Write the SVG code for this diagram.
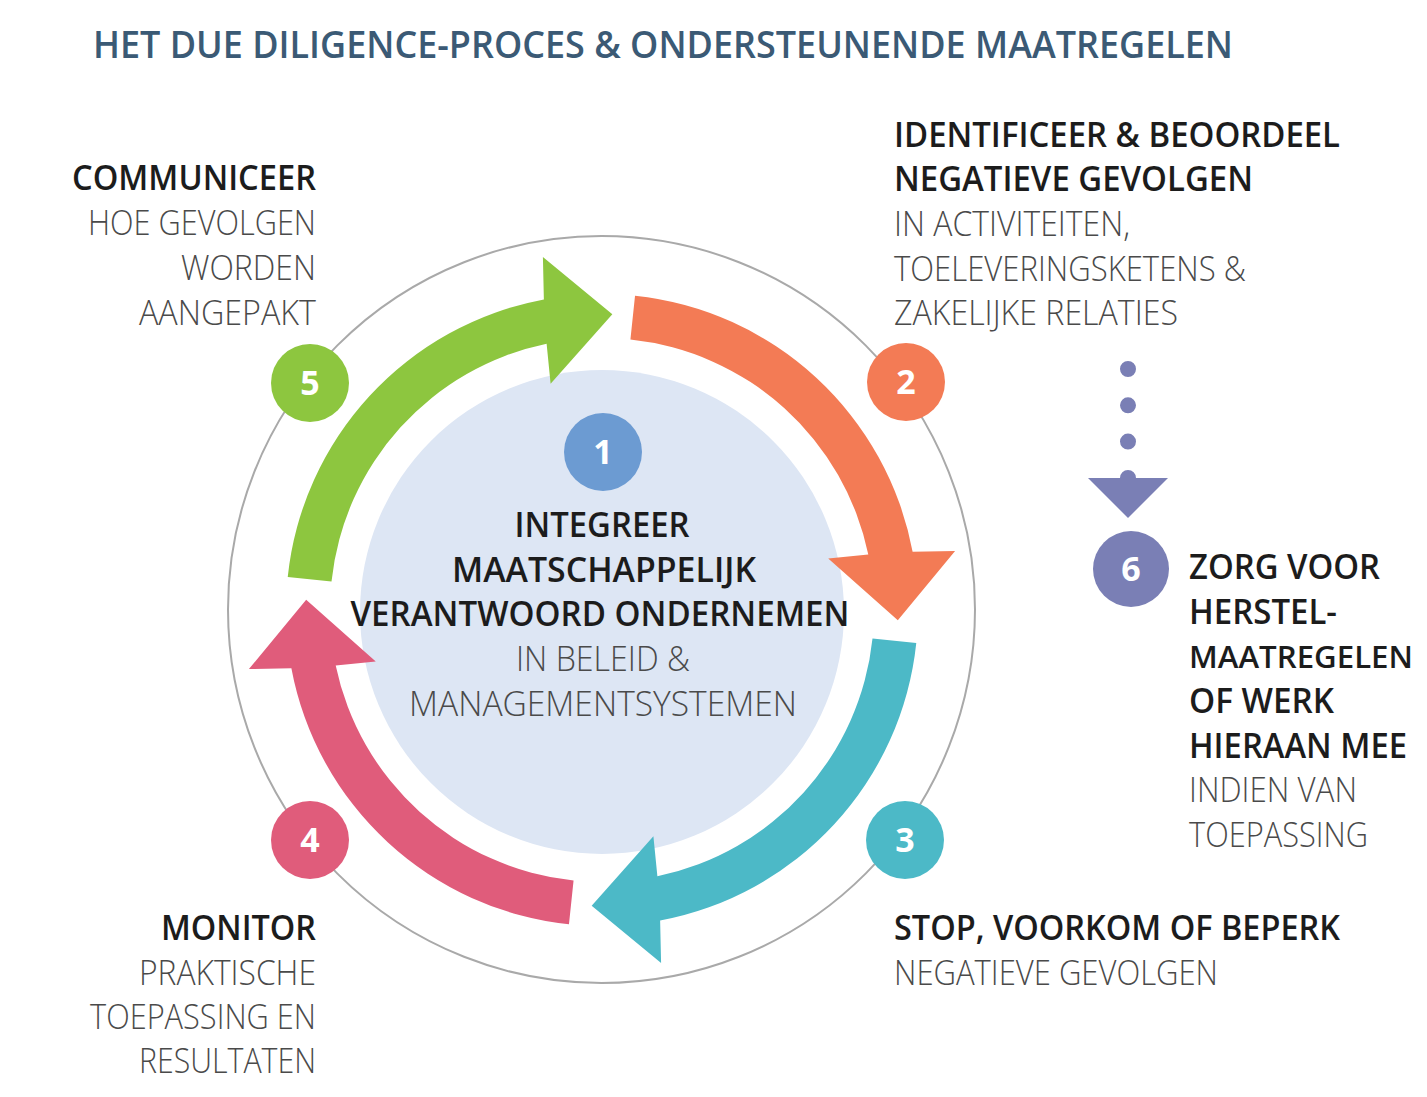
<svg xmlns="http://www.w3.org/2000/svg" xmlns:xlink="http://www.w3.org/1999/xlink" width="1427" height="1097" viewBox="0 0 1427 1097">
<style>
  text { font-family: "Open Sans", "Liberation Sans", sans-serif; }
  .title { font-size: 38px; font-weight: 600; fill: #3b5a75; }
  .b { font-size: 34px; font-weight: 600; fill: #1c1c1c; }
  .l { font-size: 34px; font-weight: 300; fill: #4a4a4a; }
  .num { font-size: 34px; font-weight: 700; fill: #ffffff; text-anchor: middle; }
  .ring { fill: none; stroke: #a9a9a9; stroke-width: 2; }
</style>
<defs>
  <path id="arc-arrow" d="M 287.73 576.97 A 316 316 0 0 1 543.87 299.39 L 542.91 256.91 L 612.33 314.18 L 550.60 383.77 L 546.61 343.70 A 272 272 0 0 0 331.49 581.57 Z"/>
  <marker id="tri" viewBox="0 0 40 80" markerWidth="40" markerHeight="80" refX="0" refY="40" orient="auto" markerUnits="userSpaceOnUse">
    <path d="M0,0 L40,40 L0,80 Z" fill="#7a7fb5"/>
  </marker>
</defs>
<rect width="1427" height="1097" fill="#ffffff"/>

<text class="title" x="93" y="58" textLength="1140" lengthAdjust="spacingAndGlyphs">HET DUE DILIGENCE-PROCES &amp; ONDERSTEUNENDE MAATREGELEN</text>

<circle class="ring" cx="601.5" cy="609.5" r="373.5"/>

<g id="step1">
  <circle cx="602" cy="612" r="242" fill="#dde6f4"/>
  <circle cx="603" cy="452" r="39" fill="#6c9bd2"/>
  <text class="num" x="603" y="464">1</text>
  <g text-anchor="middle">
    <text class="b" x="602" y="537" textLength="175" lengthAdjust="spacingAndGlyphs">INTEGREER</text>
    <text class="b" x="604" y="582" textLength="304" lengthAdjust="spacingAndGlyphs">MAATSCHAPPELIJK</text>
    <text class="b" x="600" y="626" textLength="499" lengthAdjust="spacingAndGlyphs">VERANTWOORD ONDERNEMEN</text>
    <text class="l" x="603" y="671" textLength="174" lengthAdjust="spacingAndGlyphs">IN BELEID &amp;</text>
    <text class="l" x="603" y="716" textLength="388" lengthAdjust="spacingAndGlyphs">MANAGEMENTSYSTEMEN</text>
  </g>
</g>

<g id="connectors">
  <use xlink:href="#arc-arrow" href="#arc-arrow" fill="#8dc63f"/>
  <use xlink:href="#arc-arrow" href="#arc-arrow" fill="#f37b55" transform="rotate(90 602 610)"/>
  <use xlink:href="#arc-arrow" href="#arc-arrow" fill="#4cb9c7" transform="rotate(180 602 610)"/>
  <use xlink:href="#arc-arrow" href="#arc-arrow" fill="#e05c7b" transform="rotate(270 602 610)"/>
  <line x1="1128" y1="369" x2="1128" y2="478" stroke="#7a7fb5" stroke-width="16" stroke-linecap="round" stroke-dasharray="0 36.3" marker-end="url(#tri)"/>
</g>

<g id="step5">
  <circle cx="310" cy="383" r="39" fill="#8dc63f"/>
  <text class="num" x="310" y="395">5</text>
  <g text-anchor="end">
    <text class="b" x="316" y="190" textLength="244" lengthAdjust="spacingAndGlyphs">COMMUNICEER</text>
    <text class="l" x="316" y="235" textLength="228" lengthAdjust="spacingAndGlyphs">HOE GEVOLGEN</text>
    <text class="l" x="316" y="280" textLength="135" lengthAdjust="spacingAndGlyphs">WORDEN</text>
    <text class="l" x="316" y="325" textLength="177" lengthAdjust="spacingAndGlyphs">AANGEPAKT</text>
  </g>
</g>

<g id="step2">
  <circle cx="906" cy="382" r="39" fill="#f37b55"/>
  <text class="num" x="906" y="394">2</text>
  <text class="b" x="894" y="147" textLength="446" lengthAdjust="spacingAndGlyphs">IDENTIFICEER &amp; BEOORDEEL</text>
  <text class="b" x="894" y="191" textLength="359" lengthAdjust="spacingAndGlyphs">NEGATIEVE GEVOLGEN</text>
  <text class="l" x="894" y="236" textLength="236" lengthAdjust="spacingAndGlyphs">IN ACTIVITEITEN,</text>
  <text class="l" x="894" y="281" textLength="352" lengthAdjust="spacingAndGlyphs">TOELEVERINGSKETENS &amp;</text>
  <text class="l" x="894" y="325" textLength="284" lengthAdjust="spacingAndGlyphs">ZAKELIJKE RELATIES</text>
</g>

<g id="step3">
  <circle cx="905" cy="840" r="39" fill="#4cb9c7"/>
  <text class="num" x="905" y="852">3</text>
  <text class="b" x="894" y="940" textLength="446" lengthAdjust="spacingAndGlyphs">STOP, VOORKOM OF BEPERK</text>
  <text class="l" x="894" y="985" textLength="324" lengthAdjust="spacingAndGlyphs">NEGATIEVE GEVOLGEN</text>
</g>

<g id="step4">
  <circle cx="310" cy="840" r="39" fill="#e05c7b"/>
  <text class="num" x="310" y="852">4</text>
  <g text-anchor="end">
    <text class="b" x="316" y="940" textLength="155" lengthAdjust="spacingAndGlyphs">MONITOR</text>
    <text class="l" x="316" y="985" textLength="177" lengthAdjust="spacingAndGlyphs">PRAKTISCHE</text>
    <text class="l" x="316" y="1029" textLength="226" lengthAdjust="spacingAndGlyphs">TOEPASSING EN</text>
    <text class="l" x="316" y="1073" textLength="177" lengthAdjust="spacingAndGlyphs">RESULTATEN</text>
  </g>
</g>

<g id="step6">
  <circle cx="1131" cy="569" r="38" fill="#7a7fb5"/>
  <text class="num" x="1131" y="581">6</text>
  <text class="b" x="1189" y="579" textLength="191" lengthAdjust="spacingAndGlyphs">ZORG VOOR</text>
  <text class="b" x="1189" y="624" textLength="148" lengthAdjust="spacingAndGlyphs">HERSTEL-</text>
  <text class="b" x="1189" y="668" style="font-size:31px" textLength="224" lengthAdjust="spacingAndGlyphs">MAATREGELEN</text>
  <text class="b" x="1189" y="713" textLength="145" lengthAdjust="spacingAndGlyphs">OF WERK</text>
  <text class="b" x="1189" y="758" textLength="218" lengthAdjust="spacingAndGlyphs">HIERAAN MEE</text>
  <text class="l" x="1189" y="802" textLength="168" lengthAdjust="spacingAndGlyphs">INDIEN VAN</text>
  <text class="l" x="1189" y="847" textLength="179" lengthAdjust="spacingAndGlyphs">TOEPASSING</text>
</g>
</svg>
